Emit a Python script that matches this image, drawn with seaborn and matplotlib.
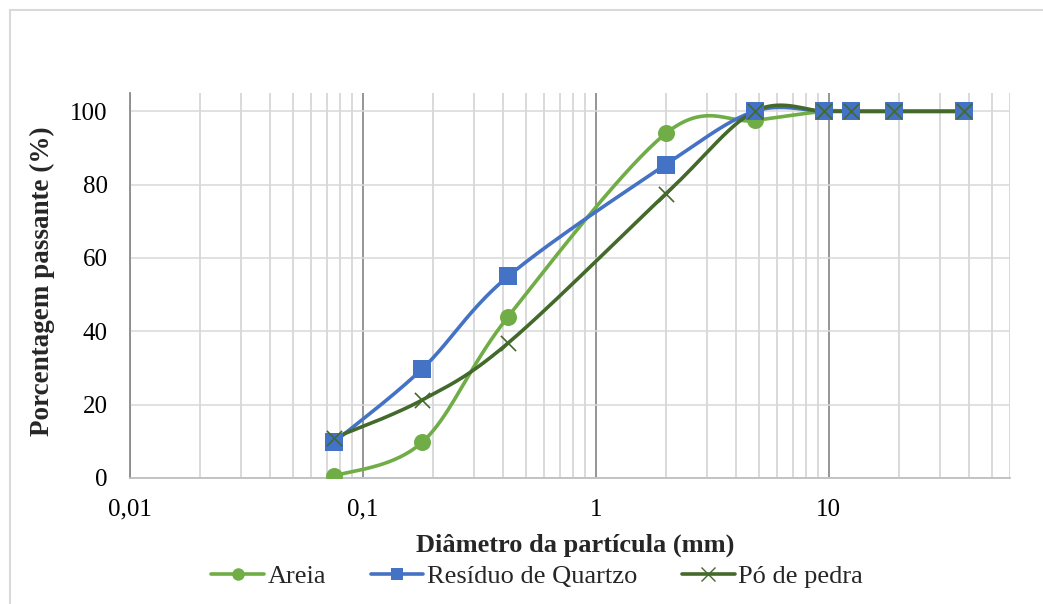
import numpy as np
import pandas as pd
import matplotlib
matplotlib.use("Agg")
import matplotlib.pyplot as plt
import seaborn as sns
from matplotlib.lines import Line2D
from matplotlib.patches import Rectangle
from matplotlib.ticker import FixedLocator, NullFormatter, LogLocator

# ---- data ----
diametro = [0.075, 0.18, 0.42, 2.0, 4.8, 9.5, 12.5, 19.0, 38.0]
areia = [0.5, 9.8, 44, 94, 97.5, 100, 100, 100, 100]
residuo = [9.7, 29.8, 55, 85.5, 100, 100, 100, 100, 100]
po_pedra = [10.9, 21.3, 36.8, 77.5, 100, 100, 100, 100, 100]
series_names = ["Areia", "Resíduo de Quartzo", "Pó de pedra"]
x_ticks = [0.01, 0.1, 1, 10]
x_tick_labels = ["0,01", "0,1", "1", "10"]
y_ticks = [0, 20, 40, 60, 80, 100]

colors = ["#70AD47", "#4472C4", "#43692B"]
markers = ["o", "s", "x"]

sns.set_style("white")
plt.rcParams["font.family"] = ["Liberation Serif", "DejaVu Serif"]

W, H = 1043, 604
fig = plt.figure(figsize=(W / 100, H / 100), dpi=100)
ax = fig.add_axes([130 / W, 1 - 478 / H, 880 / W, 385 / H])


def excel_smooth(xs, ys, n=40):
    """Excel-like smoothed line (Bezier through points), computed in screen-like space."""
    u = np.log10(np.asarray(xs, float)) * 233.0
    v = np.asarray(ys, float) * 3.66
    P = np.column_stack([u, v])
    m = len(P)
    out = []
    for i in range(m - 1):
        p0 = P[max(i - 1, 0)]
        p1 = P[i]
        p2 = P[i + 1]
        p3 = P[min(i + 2, m - 1)]
        c1 = p1 + (p2 - p0) / 6.0
        c2 = p2 - (p3 - p1) / 6.0
        t = np.linspace(0, 1, n)[:, None]
        seg = ((1 - t) ** 3) * p1 + 3 * ((1 - t) ** 2) * t * c1 + 3 * (1 - t) * t ** 2 * c2 + t ** 3 * p2
        if i > 0:
            seg = seg[1:]
        out.append(seg)
    S = np.vstack(out)
    return 10 ** (S[:, 0] / 233.0), S[:, 1] / 3.66


all_series = [areia, residuo, po_pedra]
for name, vals, c, mk in zip(series_names, all_series, colors, markers):
    sx, sy = excel_smooth(diametro, vals)
    smooth_df = pd.DataFrame({"x": sx, "y": sy})
    sns.lineplot(data=smooth_df, x="x", y="y", ax=ax, color=c, linewidth=2.6,
                 sort=False, estimator=None, legend=False, zorder=3)
    pts = pd.DataFrame({"x": diametro, "y": vals})
    if mk == "x":
        sns.scatterplot(data=pts, x="x", y="y", ax=ax, marker="x", s=120, color=c,
                        linewidth=1.2, legend=False, zorder=4)
    else:
        sns.scatterplot(data=pts, x="x", y="y", ax=ax, marker=mk, s=150, color=c,
                        edgecolor=c, linewidth=0, legend=False, zorder=4)

ax.set_xscale("log")
ax.set_xlim(0.01, 60)
ax.set_ylim(0, 105)
ax.xaxis.set_major_locator(FixedLocator(x_ticks))
ax.set_xticklabels(x_tick_labels)
ax.xaxis.set_minor_locator(LogLocator(base=10, subs=np.arange(2, 10)))
ax.xaxis.set_minor_formatter(NullFormatter())
ax.set_yticks(y_ticks)
ax.set_yticklabels([str(v) for v in y_ticks])

ax.grid(True, which="major", axis="x", color="#8C8C8C", linewidth=1.3)
ax.grid(True, which="minor", axis="x", color="#D0D0D0", linewidth=1.1)
ax.grid(True, which="major", axis="y", color="#D9D9D9", linewidth=1.1)
ax.set_axisbelow(True)

for s in ["top", "right"]:
    ax.spines[s].set_visible(False)
ax.spines["left"].set_color("#8C8C8C")
ax.spines["left"].set_linewidth(1.3)
ax.spines["bottom"].set_color("#BFBFBF")
ax.spines["bottom"].set_linewidth(1.3)

ax.tick_params(axis="both", which="both", length=0, labelsize=18, colors="black")
ax.tick_params(axis="x", pad=15)
ax.tick_params(axis="y", pad=16)

ax.set_xlabel("Diâmetro da partícula (mm)", fontsize=19, fontweight="bold")
ax.xaxis.set_label_coords(0.506, -0.145)
ax.set_ylabel("Porcentagem passante (%)", fontsize=19.5, fontweight="bold")
ax.yaxis.set_label_coords(-0.085, 0.51)

handles = []
for name, c, mk in zip(series_names, colors, markers):
    if mk == "x":
        h = Line2D([0], [0], color=c, lw=2.6, marker="x", markersize=10, markeredgewidth=1.0)
    else:
        h = Line2D([0], [0], color=c, lw=2.6, marker=mk, markersize=9, markeredgewidth=0)
    handles.append(h)
fig.legend(handles, series_names, loc="center", bbox_to_anchor=(537 / W, 1 - 576 / H),
           ncol=3, frameon=False, fontsize=19, handlelength=2.0, columnspacing=1.7,
           handletextpad=0.12, borderpad=0.2)

fig.patches.append(Rectangle((10 / W, -0.1), 1.2, 1 - 10 / H + 0.1, transform=fig.transFigure,
                             fill=False, edgecolor="#D9D9D9", linewidth=1.5))

fig.savefig("out.png", dpi=100)
